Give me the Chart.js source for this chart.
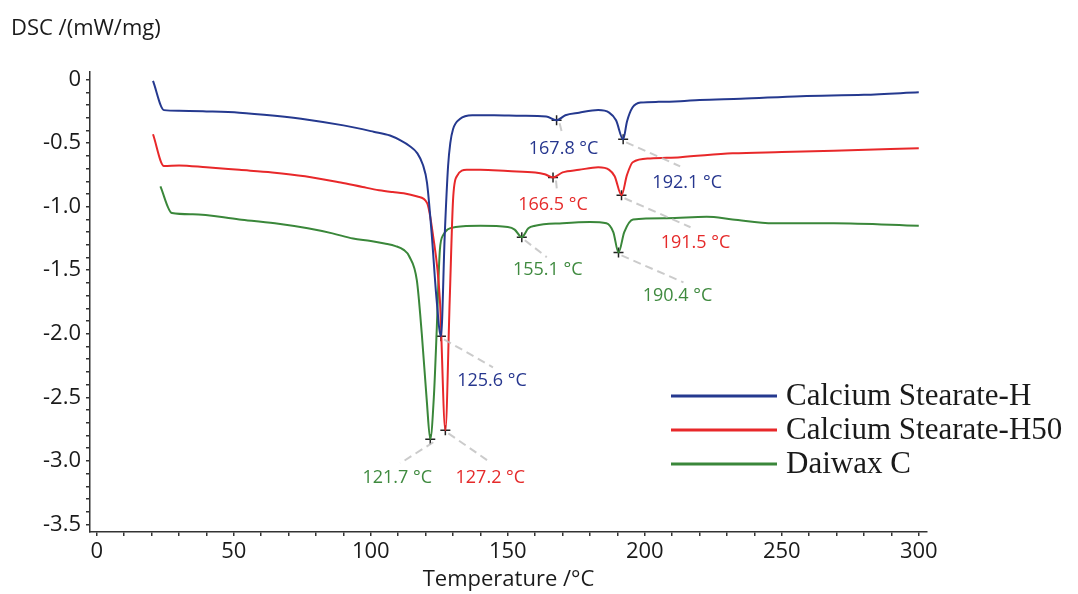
<!DOCTYPE html>
<html>
<head>
<meta charset="UTF-8">
<title>DSC curves</title>
<script src="https://cdn.jsdelivr.net/npm/chart.js"></script>
<style>
    body { margin: 0; background: #fff; }
    .wrap { position: relative; width: 1078px; height: 594px; }
</style>
</head>
<body>
<div class="wrap"><canvas id="dsc"></canvas></div>
<script>
    // Calcium Stearate-H
    const tempH = [20.5, 24.5, 30, 40, 52, 65, 77, 90, 101, 107, 111, 114, 117, 119, 120.5, 122.2, 124, 125.6, 127, 128.2, 129, 130, 132.5, 137, 145, 155, 164, 167.8, 171, 176, 183, 187, 189.5, 192.1, 193.5, 195.5, 198.5, 205, 213, 220, 235, 257, 280, 300];
    const dscH = [-0.01, -0.24, -0.245, -0.25, -0.26, -0.285, -0.315, -0.36, -0.41, -0.44, -0.48, -0.52, -0.58, -0.67, -0.81, -1.21, -1.73, -2.02, -1.21, -0.68, -0.5, -0.39, -0.31, -0.28, -0.28, -0.285, -0.29, -0.32, -0.28, -0.26, -0.24, -0.26, -0.32, -0.47, -0.33, -0.22, -0.18, -0.175, -0.17, -0.16, -0.15, -0.13, -0.12, -0.10];

    // Calcium Stearate-H50
    const tempH50 = [20.5, 24.5, 30, 40, 52, 64, 76, 89, 97, 103, 108, 112, 117, 120.5, 122.6, 125.2, 127.2, 128.8, 130, 131.4, 135, 140, 150, 160, 163.5, 166.5, 170, 176, 183, 187, 189, 191.5, 193.5, 195.6, 202, 213, 232, 250, 269, 300];
    const dscH50 = [-0.43, -0.68, -0.675, -0.69, -0.71, -0.73, -0.76, -0.81, -0.845, -0.87, -0.885, -0.895, -0.92, -0.97, -1.21, -1.73, -2.76, -1.73, -0.95, -0.76, -0.71, -0.71, -0.72, -0.73, -0.745, -0.77, -0.73, -0.71, -0.69, -0.71, -0.76, -0.91, -0.75, -0.65, -0.62, -0.61, -0.58, -0.57, -0.56, -0.54];

    // Daiwax C
    const tempC = [23.2, 27.4, 35, 52, 65, 77, 86, 93.5, 100, 105, 109, 112, 114, 116.8, 118.6, 120.4, 121.7, 123, 124, 125.2, 126.5, 128, 131, 140, 150, 152.5, 155.1, 157.5, 160, 170, 180, 186, 188.5, 190.4, 192.5, 195.7, 208, 222.6, 232, 247, 269, 300];
    const dscC = [-0.84, -1.05, -1.06, -1.10, -1.13, -1.17, -1.21, -1.25, -1.27, -1.29, -1.31, -1.34, -1.39, -1.58, -2.0, -2.52, -2.83, -2.5, -2.0, -1.34, -1.22, -1.18, -1.16, -1.15, -1.16, -1.18, -1.24, -1.17, -1.15, -1.13, -1.12, -1.13, -1.2, -1.36, -1.2, -1.10, -1.09, -1.08, -1.10, -1.13, -1.13, -1.15];

    const seriesNames = ['Calcium Stearate-H', 'Calcium Stearate-H50', 'Daiwax C'];

    // marked peaks
    const peakTempH = [125.6, 167.8, 192.1];
    const peakValH = [-2.02, -0.32, -0.47];
    const peakTempH50 = [127.2, 166.5, 191.5];
    const peakValH50 = [-2.76, -0.77, -0.91];
    const peakTempC = [121.7, 155.1, 190.4];
    const peakValC = [-2.83, -1.24, -1.36];

    const xTickLabels = [0, 50, 100, 150, 200, 250, 300];
    const yTickLabels = [0, -0.5, -1.0, -1.5, -2.0, -2.5, -3.0, -3.5];

    const lineColors = ['#25398f', '#e8282a', '#3a873a'];
    const textColors = ['#26368e', '#e52a2a', '#3f8a3f'];

    // label / leader offsets from each marker, in px  [dxLabel, dyLabel, dxLeader, dyLeader]
    const peakOffsets = [
        [[51, 45, 52, 31], [7, 29, 6, 15], [64, 44, 57, 27]],
        [[45, 48, 42, 30], [0, 27, 4, 14], [74, 48, 69, 32]],
        [[-33, 39, -30, 24], [26, 33, 25, 20], [59, 43, 65, 30]]
    ];

    const toPts = (xs, ys) => xs.map((x, i) => ({x: x, y: ys[i]}));
    const curves = [toPts(tempH, dscH), toPts(tempH50, dscH50), toPts(tempC, dscC)];
    const peaks = [toPts(peakTempH, peakValH), toPts(peakTempH50, peakValH50), toPts(peakTempC, peakValC)];

    const datasets = [];
    curves.forEach((pts, i) => {
        datasets.push({
            label: seriesNames[i],
            data: pts,
            borderColor: lineColors[i],
            borderWidth: 2,
            pointRadius: 0,
            cubicInterpolationMode: 'monotone',
            showLine: true,
            fill: false
        });
    });
    peaks.forEach((pts) => {
        datasets.push({
            label: 'peaks',
            data: pts,
            showLine: false,
            pointStyle: 'cross',
            pointRadius: 5,
            borderColor: '#222',
            borderWidth: 1.5
        });
    });

    const peakLabels = {
        id: 'peakLabels',
        afterDatasetsDraw(chart) {
            const ctx = chart.ctx;
            const xs = chart.scales.x, ys = chart.scales.y;
            ctx.save();
            peaks.forEach((pts, s) => {
                pts.forEach((p, k) => {
                    const px = xs.getPixelForValue(p.x);
                    const py = ys.getPixelForValue(p.y);
                    const o = peakOffsets[s][k];
                    ctx.strokeStyle = 'rgba(190,190,190,0.8)';
                    ctx.lineWidth = 2;
                    ctx.setLineDash([8, 5]);
                    ctx.beginPath();
                    ctx.moveTo(px + 3, py + 3);
                    ctx.lineTo(px + o[2], py + o[3]);
                    ctx.stroke();
                    ctx.setLineDash([]);
                    ctx.fillStyle = textColors[s];
                    ctx.font = '18px "Open Sans"';
                    ctx.textAlign = 'center';
                    ctx.textBaseline = 'middle';
                    ctx.fillText(p.x.toFixed(1) + ' °C', px + o[0], py + o[1]);
                });
            });
            ctx.restore();
        }
    };

    const extras = {
        id: 'extras',
        afterDraw(chart) {
            const ctx = chart.ctx;
            ctx.save();
            // y axis title
            ctx.fillStyle = '#1a1a1a';
            ctx.font = '22px "Open Sans"';
            ctx.textAlign = 'left';
            ctx.textBaseline = 'middle';
            ctx.fillText('DSC /(mW/mg)', 11, 29);
            // legend
            ctx.font = '31px "Liberation Serif"';
            for (let i = 0; i < 3; i++) {
                const y = 396 + i * 34;
                ctx.strokeStyle = lineColors[i];
                ctx.lineWidth = 3;
                ctx.beginPath();
                ctx.moveTo(671, y);
                ctx.lineTo(777, y);
                ctx.stroke();
                ctx.fillStyle = '#1a1a1a';
                ctx.fillText(chart.data.datasets[i].label, 786, y + 1);
            }
            ctx.restore();
        }
    };

    const isMajorY = v => Math.abs(v * 2 - Math.round(v * 2)) < 1e-6;

    new Chart(document.getElementById('dsc'), {
        type: 'scatter',
        data: { datasets: datasets },
        options: {
            responsive: true,
            maintainAspectRatio: false,
            animation: false,
            layout: { padding: { top: 72, right: 151, left: 0, bottom: 0 } },
            plugins: {
                legend: { display: false },
                tooltip: { enabled: false }
            },
            scales: {
                x: {
                    type: 'linear',
                    min: -2.5,
                    max: 303,
                    afterBuildTicks(scale) {
                        const t = [];
                        for (let v = xTickLabels[0]; v <= xTickLabels[xTickLabels.length - 1]; v += 10) t.push({value: v});
                        scale.ticks = t;
                    },
                    afterFit(scale) { scale.height = 62; },
                    grid: { drawOnChartArea: false, tickLength: 4, color: '#333', lineWidth: 1.5 },
                    border: { display: true, color: '#333', width: 1.5 },
                    ticks: {
                        autoSkip: false,
                        maxRotation: 0,
                        padding: 3,
                        color: '#1a1a1a',
                        font: { family: 'Open Sans', size: 22 },
                        callback: v => xTickLabels.includes(v) ? String(v) : ''
                    },
                    title: {
                        display: true,
                        text: 'Temperature /°C',
                        color: '#1a1a1a',
                        font: { family: 'Open Sans', size: 22 },
                        padding: { top: 0, bottom: 1 }
                    }
                },
                y: {
                    type: 'linear',
                    min: -3.56,
                    max: 0.06,
                    afterBuildTicks(scale) {
                        const t = [];
                        for (let k = 0; k <= 35; k++) t.push({value: -k / 10});
                        scale.ticks = t;
                    },
                    afterFit(scale) { scale.width = 90; },
                    grid: { drawOnChartArea: false, tickLength: 4, color: '#333', lineWidth: 1.5 },
                    border: { display: true, color: '#333', width: 1.5 },
                    ticks: {
                        autoSkip: false,
                        padding: 5,
                        color: '#1a1a1a',
                        font: { family: 'Open Sans', size: 22 },
                        callback: v => {
                            if (!isMajorY(v)) return '';
                            const m = yTickLabels.find(t => Math.abs(t - v) < 1e-6);
                            if (m === undefined) return '';
                            return m === 0 ? '0' : m.toFixed(1);
                        }
                    }
                }
            }
        },
        plugins: [peakLabels, extras]
    });
</script>
</body>
</html>
